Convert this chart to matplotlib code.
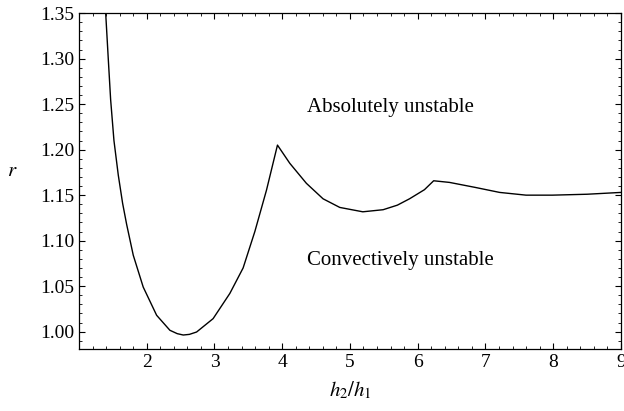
import numpy as np
from matplotlib import pyplot as plt
from matplotlib.ticker import MultipleLocator, FormatStrFormatter

# boundary between absolute and convective instability
h_ratio = [1.394, 1.432, 1.467, 1.516, 1.580, 1.644, 1.703, 1.801, 1.948, 2.146,
           2.342, 2.45, 2.539, 2.63, 2.736, 2.98, 3.227, 3.423, 3.596, 3.768,
           3.93, 4.112, 4.357, 4.603, 4.85, 5.19, 5.49, 5.70, 5.88, 6.10,
           6.236, 6.47, 6.85, 7.21, 7.60, 7.99, 8.5, 9.0]
r_crit = [1.350, 1.300, 1.255, 1.210, 1.172, 1.141, 1.118, 1.084, 1.049, 1.018,
          1.0015, 0.9978, 0.9963, 0.9970, 0.9996, 1.0143, 1.042, 1.070, 1.110, 1.1555,
          1.205, 1.185, 1.163, 1.146, 1.1365, 1.1317, 1.134, 1.139, 1.146, 1.156,
          1.1658, 1.164, 1.1585, 1.153, 1.150, 1.150, 1.151, 1.153]

region_labels = ['Absolutely unstable', 'Convectively unstable']
region_x = [4.36, 4.36]
region_y = [1.246, 1.0785]

plt.rcParams['font.family'] = ['Liberation Serif', 'DejaVu Serif']
plt.rcParams['mathtext.fontset'] = 'stix'

fig = plt.figure(figsize=(6.24, 4.11), dpi=100)
ax = fig.add_axes([0.1266, 0.151, 0.8684, 0.817])

ax.plot(h_ratio, r_crit, color='black', lw=1.0)

for lab, x, y in zip(region_labels, region_x, region_y):
	ax.text(x, y, lab, ha='left', va='center', fontsize=15)

ax.set_xlim(1, 9)
ax.set_ylim(0.981, 1.35)
ax.xaxis.set_major_locator(MultipleLocator(1))
ax.xaxis.set_minor_locator(MultipleLocator(0.2))
ax.yaxis.set_major_locator(MultipleLocator(0.05))
ax.yaxis.set_minor_locator(MultipleLocator(0.01))
ax.yaxis.set_major_formatter(FormatStrFormatter('%.2f'))
ax.set_xticks([2, 3, 4, 5, 6, 7, 8, 9])
ax.tick_params(which='both', direction='in', top=True, right=True, labelsize=14)
ax.tick_params(which='major', length=4, width=0.8)
ax.tick_params(which='minor', length=2.2, width=0.6)
for s in ax.spines.values():
	s.set_linewidth(0.9)

ax.set_xlabel(r'$h_2/h_1$', fontsize=15, labelpad=6)
ax.set_ylabel(r'$r$', fontsize=15, rotation=0, labelpad=20)

fig.savefig('out.png', dpi=100)
